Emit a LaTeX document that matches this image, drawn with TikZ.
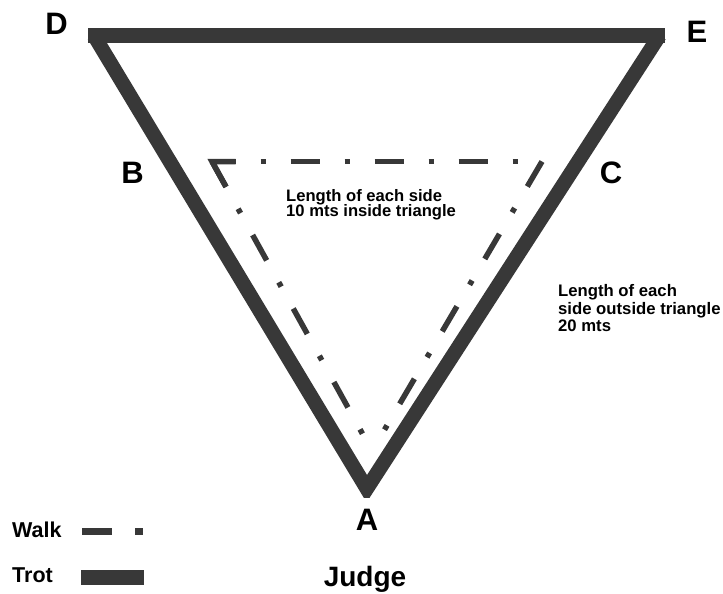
\documentclass[tikz,border=0pt]{standalone}
\usepackage{fontspec}
\setmainfont{Liberation Sans}
\usetikzlibrary{calc}
\definecolor{lin}{HTML}{383838}
\tikzset{
  lbl/.style={font=\bfseries\fontsize{31}{31}\selectfont, inner sep=0pt, anchor=base},
  note/.style={font=\bfseries\fontsize{16.6}{15.6}\selectfont, inner sep=0pt, anchor=north west, align=left},
  trotline/.style={draw=lin, line width=14.5pt, line join=miter},
  walkline/.style={draw=lin, line width=5.5pt, dash pattern=on 29pt off 25pt on 5pt off 25pt},
}
\begin{document}
\begin{tikzpicture}[x=1pt,y=-1pt]
\useasboundingbox (0,0) rectangle (723,594);
% outer triangle vertices
\coordinate (D) at (88,35.5);
\coordinate (E) at (665,35.5);
\coordinate (Dd) at (94,35.5);
\coordinate (Ed) at (659.5,35.5);
\coordinate (A) at (366.8,488.7);
% inner triangle vertices
\coordinate (Bi) at (212,161.5);
\coordinate (Ci) at (542,161.5);
\coordinate (Ai) at (372,451);
% outer (trot) triangle
\draw[draw=lin, line width=15pt] (D) -- (E);
\begin{scope}
  \clip (0,0) rectangle (723,497);
  \draw[trotline] (Dd) -- (A) -- (Ed);
\end{scope}
% inner (walk) triangle
\draw[walkline, dash phase=5.5pt] (Bi) -- (Ci);
\draw[walkline] (Bi) -- (Ai);
\draw[walkline] (Ci) -- (Ai);
\draw[draw=lin, line width=5.5pt, line join=miter] ($(Bi)!29pt!(Ai)$) -- (Bi) -- ($(Bi)!23.5pt!(Ci)$);
% labels
\node[lbl] (lD) at (56.5,35) {D};
\node[lbl] (lE) at (697,43) {E};
\node[lbl] (lB) at (132.5,183) {B};
\node[lbl] (lC) at (611,183) {C};
\node[lbl] (lA) at (367,530) {A};
\node[font=\bfseries\fontsize{28}{28}\selectfont, inner sep=0pt, anchor=base] (judge) at (365,586) {Judge};
\node[note] (inner) at (286,189) {Length of each side\\10 mts inside triangle};
\node[note, font=\bfseries\fontsize{16.7}{17.5}\selectfont] (outer) at (558,284.5) {Length of each\\side outside triangle\\20 mts};
% legend
\node[font=\bfseries\fontsize{21.5}{21.5}\selectfont, inner sep=0pt, anchor=base west] (walk) at (12,537) {Walk};
\node[font=\bfseries\fontsize{21.5}{21.5}\selectfont, inner sep=0pt, anchor=base west] (trot) at (12,582) {Trot};
\coordinate (w1) at (82,531.5);
\coordinate (w2) at (143,531.5);
\draw[draw=lin, line width=7pt, dash pattern=on 30pt off 23pt on 8pt off 10pt] (w1) -- (w2);
\coordinate (t1) at (81,577.5);
\coordinate (t2) at (144,577.5);
\draw[draw=lin, line width=15pt] (t1) -- (t2);
\end{tikzpicture}
\end{document}
